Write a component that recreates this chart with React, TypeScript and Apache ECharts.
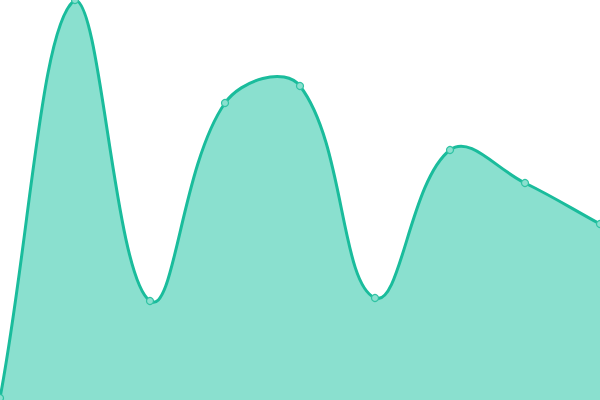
// smooth area line, full bleed (cardinal spline like the original)
import { useRef, useEffect } from "react";
import * as echarts from "echarts";

const categories = ["1", "2", "3", "4", "5", "6", "7", "8", "9"];
const values = [2, 400, 99, 297, 314, 102, 250, 217, 176];

const TENSION = 0.4;

const renderCurve = (params: any, api: any) => {
  if (params.dataIndex !== 0) return null;
  const cs = params.coordSys;
  const left = cs.x, right = cs.x + cs.width, top = cs.y, bottom = cs.y + cs.height;
  const pts: number[][] = values.map((v, i) => api.coord([i, v]));
  const n = pts.length;
  const cpPrev: number[][] = [];
  const cpNext: number[][] = [];
  const clampX = (x: number) => Math.max(left, Math.min(right, x));
  const clampY = (y: number) => Math.max(top, Math.min(bottom, y));
  for (let i = 0; i < n; i++) {
    const p = pts[i];
    const a = pts[i - 1] || p;
    const b = pts[i + 1] || p;
    const d01 = Math.hypot(p[0] - a[0], p[1] - a[1]);
    const d12 = Math.hypot(b[0] - p[0], b[1] - p[1]);
    let s01 = d01 / (d01 + d12);
    let s12 = d12 / (d01 + d12);
    if (isNaN(s01)) s01 = 0;
    if (isNaN(s12)) s12 = 0;
    const fa = TENSION * s01;
    const fb = TENSION * s12;
    cpPrev.push([clampX(p[0] - fa * (b[0] - a[0])), clampY(p[1] - fa * (b[1] - a[1]))]);
    cpNext.push([clampX(p[0] + fb * (b[0] - a[0])), clampY(p[1] + fb * (b[1] - a[1]))]);
  }
  let d = `M${pts[0][0]},${pts[0][1]}`;
  for (let i = 0; i < n - 1; i++) {
    d += ` C${cpNext[i][0]},${cpNext[i][1]} ${cpPrev[i + 1][0]},${cpPrev[i + 1][1]} ${pts[i + 1][0]},${pts[i + 1][1]}`;
  }
  const area = `${d} L${pts[n - 1][0]},${bottom} L${pts[0][0]},${bottom} Z`;
  return {
    type: "group",
    children: [
      { type: "path", shape: { pathData: area }, style: { fill: "#8ae0cf" } },
      {
        type: "path",
        shape: { pathData: d },
        style: { fill: "none", stroke: "#1abc9c", lineWidth: 3 },
      },
    ],
  };
};

const App = () => {
  const chartRef = useRef<HTMLDivElement>(null);

  useEffect(() => {
    const myChart = echarts.init(chartRef.current, null, { renderer: "svg" });
    myChart.setOption({
      animation: false,
      grid: { left: 0, right: 0, top: 0, bottom: 0 },
      xAxis: {
        type: "category",
        data: categories,
        boundaryGap: false,
        show: false,
      },
      yAxis: { type: "value", min: 0, max: 400, show: false },
      series: [
        {
          type: "custom",
          data: values.map((v, i) => [i, v]),
          encode: { x: 0, y: 1 },
          renderItem: renderCurve,
          clip: false,
          z: 1,
        },
        {
          type: "scatter",
          data: values,
          symbol: "circle",
          symbolSize: 7,
          itemStyle: { color: "#8ae0cf", borderColor: "#2fc2a3", borderWidth: 1.2, opacity: 1 },
          z: 3,
        },
      ],
    });
    return () => {
      myChart.dispose();
    };
  }, []);

  return (
    <div
      ref={chartRef}
      style={{ position: "fixed", left: 0, top: 0, width: "600px", height: "400px" }}
    ></div>
  );
};

export default App;
